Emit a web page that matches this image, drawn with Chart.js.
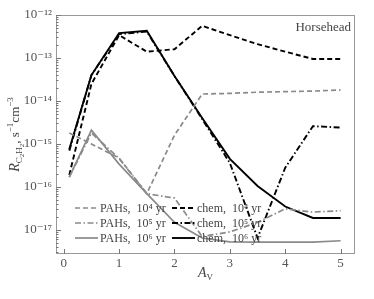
<!DOCTYPE html>
<html>
<head>
<meta charset="utf-8">
<script src="https://cdn.jsdelivr.net/npm/chart.js@4"></script>
<style>
  body { margin: 0; background: #fff; }
  #wrap { width: 374px; height: 299px; }
</style>
</head>
<body>
<div id="wrap"><canvas id="rateChart" width="374" height="299"></canvas></div>
<script>
// A_V grid and C2H2 formation rates (s^-1 cm^-3)
const av = [0.1, 0.5, 1, 1.5, 2, 2.5, 3, 3.5, 4, 4.5, 5];
const pahs4 = [1.8e-15, 1.0e-15, 4.7e-16, 7e-17, 1.6e-15, 1.45e-14, 1.5e-14, 1.6e-14, 1.65e-14, 1.7e-14, 1.8e-14];
const pahs5 = [1.7e-16, 1.8e-15, 4.6e-16, 7e-17, 5.5e-17, 7e-18, 9e-18, 1.5e-17, 3.1e-17, 2.6e-17, 2.8e-17];
const pahs6 = [1.7e-16, 2.1e-15, 3.4e-16, 7e-17, 1.5e-17, 6.5e-18, 5.3e-18, 5.2e-18, 5.2e-18, 5.2e-18, 5.6e-18];
const chem4 = [1.9e-16, 2.5e-14, 3.4e-13, 1.4e-13, 1.6e-13, 5.6e-13, 3.4e-13, 2.1e-13, 1.4e-13, 9.5e-14, 9.5e-14];
const chem5 = [7e-16, 4e-14, 3.6e-13, 4.1e-13, 3.8e-14, 3.8e-15, 3.6e-16, 6.5e-18, 2.8e-16, 2.6e-15, 2.4e-15];
const chem6 = [7.5e-16, 4e-14, 3.8e-13, 4.3e-13, 3.8e-14, 4e-15, 4.5e-16, 1.05e-16, 3.5e-17, 1.9e-17, 1.9e-17];

const xTicks = [0, 1, 2, 3, 4, 5];
const yDecades = [1e-18, 1e-17, 1e-16, 1e-15, 1e-14, 1e-13, 1e-12];

const SERIF = "'Liberation Serif', 'DejaVu Serif', serif";
const GRAY = '#8a8a8a';
const DASH = [5, 3];
const DASHDOT = [6, 2.5, 1.5, 2.5];

const sup = { '0': '⁰', '1': '¹', '2': '²', '3': '³', '4': '⁴', '5': '⁵', '6': '⁶', '7': '⁷', '8': '⁸', '9': '⁹', '-': '⁻' };
const toSup = s => String(s).split('').map(c => sup[c] || c).join('');

function line(label, data, color, width, dash) {
  return {
    label: label,
    data: av.map((x, i) => ({ x: x, y: data[i] })),
    borderColor: color,
    borderWidth: width,
    borderDash: dash,
    pointRadius: 0,
    fill: false,
    tension: 0
  };
}

// minor log ticks 1..9 x 10^n
const yTickValues = [];
yDecades.forEach(d => { for (let k = 1; k <= 9; k++) yTickValues.push(k * d); });

function drawPieces(ctx, pieces, x, y) {
  let w = 0;
  pieces.forEach(p => { ctx.font = p.font; w += ctx.measureText(p.t).width; });
  let cx = x - w / 2;
  pieces.forEach(p => {
    ctx.font = p.font;
    ctx.fillText(p.t, cx, y + (p.dy || 0));
    cx += ctx.measureText(p.t).width;
  });
}

const decor = {
  id: 'decor',
  afterDraw(chart) {
    const { ctx, chartArea: a, scales } = chart;
    ctx.save();
    // frame
    ctx.strokeStyle = '#999';
    ctx.lineWidth = 1;
    ctx.setLineDash([]);
    ctx.strokeRect(a.left + 0.5, a.top + 0.5, a.right - a.left - 1, a.bottom - a.top - 1);

    // inward ticks
    ctx.strokeStyle = '#777';
    yTickValues.forEach(v => {
      const py = scales.y.getPixelForValue(v);
      if (py < a.top || py > a.bottom) return;
      const major = Math.abs(Math.log10(v) - Math.round(Math.log10(v))) < 1e-6;
      ctx.beginPath();
      ctx.moveTo(a.left, Math.round(py) + 0.5);
      ctx.lineTo(a.left + (major ? 5 : 2.5), Math.round(py) + 0.5);
      ctx.stroke();
    });
    xTicks.forEach(v => {
      const px = Math.round(scales.x.getPixelForValue(v)) + 0.5;
      ctx.beginPath();
      ctx.moveTo(px, a.bottom);
      ctx.lineTo(px, a.bottom - 5);
      ctx.stroke();
    });

    // legend, two columns inside the plot
    const ds = chart.data.datasets;
    const cols = [[0, 1, 2], [3, 4, 5]];
    const colX = [a.left + 19, a.left + 116];
    const rowY = [208, 223, 238];
    ctx.textBaseline = 'middle';
    ctx.textAlign = 'left';
    cols.forEach((col, ci) => {
      col.forEach((di, ri) => {
        const d = ds[di];
        ctx.strokeStyle = d.borderColor;
        ctx.lineWidth = d.borderWidth;
        ctx.setLineDash(d.borderDash || []);
        ctx.beginPath();
        ctx.moveTo(colX[ci], rowY[ri]);
        ctx.lineTo(colX[ci] + 23, rowY[ri]);
        ctx.stroke();
        ctx.setLineDash([]);
        ctx.fillStyle = '#444';
        ctx.font = '12px ' + SERIF;
        ctx.fillText(d.label, colX[ci] + 25, rowY[ri] + 1);
      });
    });

    // label
    ctx.textAlign = 'right';
    ctx.font = '13px ' + SERIF;
    ctx.fillStyle = '#444';
    ctx.fillText('Horsehead', a.right - 4, 28);

    // axis titles
    ctx.textAlign = 'left';
    ctx.textBaseline = 'alphabetic';
    drawPieces(ctx, [
      { t: 'A', font: 'italic 14px ' + SERIF },
      { t: 'V', font: '9px ' + SERIF, dy: 3 }
    ], (a.left + a.right) / 2, 277);

    ctx.translate(19, (a.top + a.bottom) / 2);
    ctx.rotate(-Math.PI / 2);
    drawPieces(ctx, [
      { t: 'R', font: 'italic 14px ' + SERIF },
      { t: 'C', font: '9px ' + SERIF, dy: 3 },
      { t: '2', font: '7px ' + SERIF, dy: 5 },
      { t: 'H', font: '9px ' + SERIF, dy: 3 },
      { t: '2', font: '7px ' + SERIF, dy: 5 },
      { t: ', s', font: '13px ' + SERIF },
      { t: '−1', font: '9px ' + SERIF, dy: -6 },
      { t: 'cm', font: '13px ' + SERIF },
      { t: '−3', font: '9px ' + SERIF, dy: -6 }
    ], 0, 0);
    ctx.restore();
  }
};

const rateChart = new Chart(document.getElementById('rateChart'), {
  type: 'line',
  data: {
    datasets: [
      line('PAHs,  10' + toSup(4) + ' yr', pahs4, GRAY, 1.7, DASH),
      line('PAHs,  10' + toSup(5) + ' yr', pahs5, GRAY, 1.7, DASHDOT),
      line('PAHs,  10' + toSup(6) + ' yr', pahs6, GRAY, 1.7, []),
      line('chem,  10' + toSup(4) + ' yr', chem4, '#000', 1.9, DASH),
      line('chem,  10' + toSup(5) + ' yr', chem5, '#000', 1.9, DASHDOT),
      line('chem,  10' + toSup(6) + ' yr', chem6, '#000', 1.9, [])
    ]
  },
  options: {
    responsive: false,
    animation: false,
    layout: { padding: { top: 15, right: 19, left: 0, bottom: 0 } },
    plugins: {
      legend: { display: false },
      tooltip: { enabled: false }
    },
    scales: {
      x: {
        type: 'linear',
        min: -0.14,
        max: 5.26,
        grid: { display: false, drawTicks: false },
        border: { display: false },
        afterBuildTicks: s => { s.ticks = xTicks.map(v => ({ value: v })); },
        afterFit: s => { s.height = 45; },
        ticks: {
          padding: 2,
          color: '#555',
          font: { family: SERIF, size: 13 },
          callback: v => String(v)
        }
      },
      y: {
        type: 'logarithmic',
        min: Math.pow(10, -17.56),
        max: 1e-12,
        grid: { display: false, drawTicks: false },
        border: { display: false },
        afterBuildTicks: s => { s.ticks = yTickValues.filter(v => v >= s.min * 0.999 && v <= s.max * 1.001).map(v => ({ value: v })); },
        afterFit: s => { s.width = 56; },
        ticks: {
          padding: 4,
          autoSkip: false,
          color: '#555',
          font: { family: SERIF, size: 13 },
          callback: v => {
            const e = Math.log10(v);
            if (Math.abs(e - Math.round(e)) > 1e-6) return '';
            return '10' + toSup(Math.round(e));
          }
        }
      }
    }
  },
  plugins: [decor]
});
</script>
</body>
</html>
